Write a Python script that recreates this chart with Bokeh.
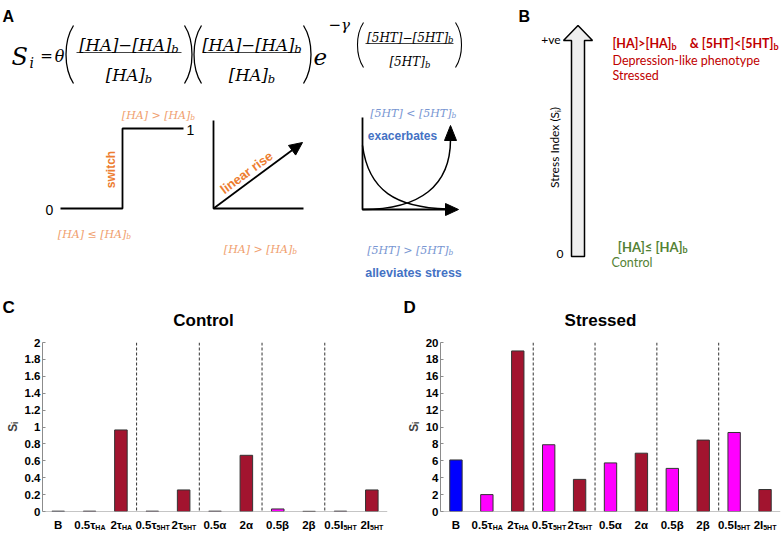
import math
from bokeh.plotting import figure
from bokeh.layouts import column, row
from bokeh.models import (Range1d, FactorRange, ColumnDataSource, Span,
                          FixedTicker, NumeralTickFormatter)
from bokeh.core.properties import value
from bokeh.embed import file_html
from bokeh.resources import INLINE

# ---------------- data ----------------
categories = ["B", "0.5τHA", "2τHA", "0.5τ5HT", "2τ5HT", "0.5α", "2α", "0.5β", "2β", "0.5I5HT", "2I5HT"]
tick_main = ["B", "0.5τ", "2τ", "0.5τ", "2τ", "0.5α", "2α", "0.5β", "2β", "0.5I", "2I"]
tick_sub = ["", "HA", "HA", "5HT", "5HT", "", "", "", "", "5HT", "5HT"]
control_si = [0.004, 0.004, 0.965, 0.004, 0.255, 0.004, 0.665, 0.03, 0.002, 0.004, 0.255]
stressed_si = [6.1, 2.0, 19.0, 7.9, 3.8, 5.75, 6.9, 5.1, 8.45, 9.35, 2.6]
control_ticks = [0, 0.2, 0.4, 0.6, 0.8, 1, 1.2, 1.4, 1.6, 1.8, 2]
stressed_ticks = [0, 2, 4, 6, 8, 10, 12, 14, 16, 18, 20]
group_ends = ["2τHA", "2τ5HT", "2α", "2β"]

# ---------------- styles ----------------
BLUE = "#0000ff"
MAGENTA = "#ff00ff"
DARKRED = "#a2142f"
ORANGE = "#ed7d31"
ORANGE_L = "#f0a06e"
BLUE_B = "#4472c4"
BLUE_L = "#7896d2"
RED = "#c00000"
GREEN = "#548235"
AXIS_GREY = "#8c8c8c"
SERIF = "DejaVu Serif"
SANS = "Liberation Sans"
CAL = "Lato"

W = 783
H_TOP = 330
H_BAR = 188
H_STRIP = 14

# ---------------- top canvas (panels A, B, titles) ----------------
top = figure(width=W, height=H_TOP, x_range=Range1d(0, W), y_range=Range1d(H_TOP, 0),
             output_backend="svg", toolbar_location=None, x_axis_type=None, y_axis_type=None,
             min_border=0, outline_line_color=None)
top.xgrid.visible = False
top.ygrid.visible = False


def t(x, y, s, size, color="black", font=SERIF, style="normal", align="left",
      baseline="alphabetic", angle=0.0):
    top.text(x=[x], y=[y], text=[s], text_font=value(font), text_font_size=f"{size}px",
             text_font_style=style, text_color=color, text_align=align,
             text_baseline=baseline, angle=angle)


SERIF_W = {"[": 0.39, "]": 0.39, "H": 0.87, "A": 0.72, "5": 0.64, "T": 0.73, "−": 0.84,
           " ": 0.32, ">": 0.84, "<": 0.84, "≤": 0.84, "b": 0.64}


def w_serif(s):
    return sum(SERIF_W.get(c, 0.6) for c in s)


def sub_text(cx, base, main, sub, size, subsize, color="black"):
    wm = w_serif(main) * size
    ws = w_serif(sub) * subsize
    j = cx - (wm + ws) / 2 + wm
    t(j, base, main, size, color, style="italic", align="right")
    t(j, base + 0.22 * size, sub, subsize, color, style="italic", align="left")


def paren(x, y0, y1, left=True, bulge=10, lw=1.3):
    h = y1 - y0
    cx = x - bulge if left else x + bulge
    top.bezier(x0=[x], y0=[y0], x1=[x], y1=[y1], cx0=[cx], cy0=[y0 + 0.27 * h],
               cx1=[cx], cy1=[y1 - 0.27 * h], line_color="black", line_width=lw)


def frac(cx, x0, x1, bar_y, nb, db, num, den, size, subsize):
    top.segment(x0=[x0], y0=[bar_y], x1=[x1], y1=[bar_y], line_color="#444444", line_width=1)
    sub_text(cx, nb, num, "b", size, subsize)
    sub_text(cx, db, den, "b", size, subsize)


def head(tx, ty, dx, dy, length=13, half=6, color="black"):
    n = math.hypot(dx, dy)
    ux, uy = dx / n, dy / n
    bx, by = tx - ux * length, ty - uy * length
    px, py = -uy, ux
    top.patch(x=[tx, bx + px * half, bx - px * half], y=[ty, by + py * half, by - py * half],
              fill_color=color, line_color=color)
    return bx, by


def line(xs, ys, lw=1.8, color="black"):
    top.line(x=xs, y=ys, line_color=color, line_width=lw)


# panel letters and titles
t(2, 16, "A", 16, font=SANS, style="bold")
t(518, 16, "B", 16, font=SANS, style="bold")
t(2, 307, "C", 17, font=SANS, style="bold")
t(403, 307, "D", 17, font=SANS, style="bold")
t(203, 320, "Control", 17, font=SANS, style="bold", align="center")
t(600, 320, "Stressed", 17, font=SANS, style="bold", align="center")

# formula
t(11, 56, "S", 24, style="italic")
t(29, 62, "i", 14, style="italic")
t(46, 55, "=", 15, align="center")
t(59, 56, "θ", 16, style="italic", align="center")
paren(73, 25, 83, left=True)
frac(128.5, 76, 181, 52, 45, 75, "[HA]−[HA]", "[HA]", 16.5, 11.5)
paren(184, 25, 83, left=False)
paren(201, 25, 83, left=True)
frac(251.5, 203, 300, 52, 45, 75, "[HA]−[HA]", "[HA]", 16.5, 11.5)
paren(303, 25, 83, left=False)
t(313, 56, "e", 23, style="italic")
t(328, 24, "−γ", 15, style="italic")
paren(363, 22, 67, left=True, bulge=8, lw=1.1)
frac(409, 365, 453, 43, 37, 61.5, "[5HT]−[5HT]", "[5HT]", 12, 8.5)
paren(455, 22, 67, left=False, bulge=8, lw=1.1)

# step function
line([60, 122, 122, 183], [208, 208, 128, 128])
t(49, 209, "0", 14, font=SANS, align="center", baseline="middle")
t(190, 129, "1", 14, font=SANS, align="center", baseline="middle")
t(110, 169, "switch", 12, color=ORANGE, font=SANS, style="bold", align="center",
  baseline="middle", angle=math.pi / 2)
sub_text(158, 115, "[HA] > [HA]", "b", 11, 7.5, ORANGE_L)
sub_text(94, 234, "[HA] ≤ [HA]", "b", 11, 7.5, ORANGE_L)

# linear rise
line([213, 213, 303], [120, 208, 208])
bx, by = head(302, 142, 89, -66)
line([213, bx], [208, by])
t(246, 172, "linear rise", 13, color=ORANGE, font=SANS, style="bold", align="center",
  baseline="middle", angle=math.atan2(66, 89))
sub_text(260, 249, "[HA] > [HA]", "b", 11, 7.5, ORANGE_L)

# exponential
line([362, 362, 446], [117, 209, 209])
head(458, 209, 1, 0, length=13, half=6)
top.bezier(x0=[362], y0=[145], x1=[447], y1=[208.5], cx0=[368], cy0=[190], cx1=[395], cy1=[207],
           line_color="black", line_width=1.5)
top.bezier(x0=[362], y0=[209], x1=[450], y1=[139], cx0=[420], cy0=[209], cx1=[450], cy1=[185],
           line_color="black", line_width=1.5)
head(450, 125, 0, -1, length=15, half=6)
sub_text(412, 113, "[5HT] < [5HT]", "b", 11, 7.5, BLUE_L)
t(402, 135, "exacerbates", 12, color=BLUE_B, font=SANS, style="bold", align="center", baseline="middle")
sub_text(409, 250, "[5HT] > [5HT]", "b", 11, 7.5, BLUE_L)
t(413, 272, "alleviates stress", 12.5, color=BLUE_B, font=SANS, style="bold", align="center",
  baseline="middle")

# panel B: block arrow
top.patch(x=[571, 584, 584, 592, 577.5, 563, 571], y=[256, 256, 40, 40, 25, 40, 40],
          fill_color="#eeeeee", line_color="black", line_width=1.5)
t(560, 39, "+ve", 12, font=CAL, align="right", baseline="middle")
t(563, 253, "0", 12, font=CAL, align="right", baseline="middle")
t(554, 147, "Stress Index (Sᵢ)", 12, font=CAL, align="center", baseline="middle", angle=math.pi / 2)
t(671, 43, "[HA]>[HA]", 12.5, color=RED, font=CAL, style="bold", align="right")
t(671, 46, "b", 9, color=RED, font=CAL, style="bold")
t(773, 43, "& [5HT]<[5HT]", 12.5, color=RED, font=CAL, style="bold", align="right")
t(773, 46, "b", 9, color=RED, font=CAL, style="bold")
t(612, 60, "Depression-like phenotype", 12.5, color=RED, font=CAL)
t(612, 75, "Stressed", 12.5, color=RED, font=CAL)
t(682, 246, "[HA]≤ [HA]", 13, color=GREEN, font=CAL, style="bold", align="right")
t(682, 249, "b", 9, color=GREEN, font=CAL, style="bold")
t(611, 262, "Control", 12.5, color=GREEN, font=CAL)

# ---------------- bar charts ----------------
SANS_BW = {"0": 0.556, ".": 0.278, "5": 0.556, "2": 0.556, "B": 0.722, "I": 0.278, "τ": 0.5,
           "α": 0.6, "β": 0.58, "H": 0.722, "A": 0.722, "T": 0.611}
MAIN_SZ = 11.5
SUB_SZ = 7


def w_sans(s):
    return sum(SANS_BW.get(c, 0.6) for c in s)


def bar_color(f):
    if f == "B":
        return BLUE
    if f.startswith("0.5"):
        return MAGENTA
    return DARKRED


def bar_chart(vals, ticks, ymax, width, bl, br):
    p = figure(width=width, height=H_BAR, x_range=FactorRange(*categories), y_range=Range1d(0, ymax),
               output_backend="svg", toolbar_location=None, x_axis_location=None,
               min_border_left=bl, min_border_right=br,
               min_border_top=12, min_border_bottom=7, outline_line_color=None)
    src = ColumnDataSource(dict(f=categories, v=vals, c=[bar_color(f) for f in categories]))
    p.vbar(x="f", top="v", width=0.4, source=src, fill_color="c", line_color="#333333", line_width=1)
    for g in group_ends:
        p.add_layout(Span(location=categories.index(g) + 1, dimension="height",
                          line_color="#333333", line_dash="3 2", line_width=1))
    p.add_layout(Span(location=0, dimension="width", line_color=AXIS_GREY, line_width=1))
    p.xgrid.grid_line_color = None
    p.ygrid.grid_line_color = None
    p.yaxis.ticker = FixedTicker(ticks=ticks)
    p.yaxis.formatter = NumeralTickFormatter(format="0.[0]")
    p.yaxis.axis_label = "Sᵢ"
    p.yaxis.axis_label_text_font = SANS
    p.yaxis.axis_label_text_font_style = "bold"
    p.yaxis.axis_label_text_font_size = "12px"
    p.yaxis.axis_label_standoff = 2
    p.yaxis.major_label_text_font = SANS
    p.yaxis.major_label_text_font_style = "bold"
    p.yaxis.major_label_text_font_size = "11.5px"
    p.yaxis.major_label_text_color = "black"
    p.yaxis.major_label_standoff = 2
    p.yaxis.major_tick_in = 3
    p.yaxis.major_tick_out = 0
    p.yaxis.minor_tick_line_color = None
    p.yaxis.axis_line_color = AXIS_GREY
    p.yaxis.major_tick_line_color = AXIS_GREY

    # strip below the chart carrying category labels with subscripts
    s = figure(width=width, height=H_STRIP, x_range=p.x_range, y_range=Range1d(H_STRIP, 0),
               output_backend="svg", toolbar_location=None, x_axis_location=None,
               y_axis_location=None, min_border_left=bl, min_border_right=br,
               min_border_top=0, min_border_bottom=0, outline_line_color=None)
    s.xgrid.visible = False
    s.ygrid.visible = False
    wm = [w_sans(m) * MAIN_SZ for m in tick_main]
    ws = [w_sans(q) * SUB_SZ for q in tick_sub]
    xo = [(a - b) / 2 for a, b in zip(wm, ws)]
    msrc = ColumnDataSource(dict(x=categories, main=tick_main, xo=xo))
    keep = [i for i, q in enumerate(tick_sub) if q]
    ssrc = ColumnDataSource(dict(x=[categories[i] for i in keep], sub=[tick_sub[i] for i in keep],
                                 xo=[xo[i] for i in keep]))
    s.text(x="x", y=0, text="main", x_offset="xo", source=msrc, text_font=value(SANS),
           text_font_style="bold", text_font_size=f"{MAIN_SZ}px", text_color="black",
           text_align="right", text_baseline="top")
    s.text(x="x", y=5.5, text="sub", x_offset="xo", source=ssrc, text_font=value(SANS),
           text_font_style="bold", text_font_size=f"{SUB_SZ}px", text_color="black",
           text_align="left", text_baseline="top")
    return column(p, s)


pc = bar_chart(control_si, control_ticks, 2, 390, 42, 3)
pd_ = bar_chart(stressed_si, stressed_ticks, 20, 393, 50, 3)

layout = column(top, row(pc, pd_))
open("out.html", "w").write(file_html(layout, INLINE))
